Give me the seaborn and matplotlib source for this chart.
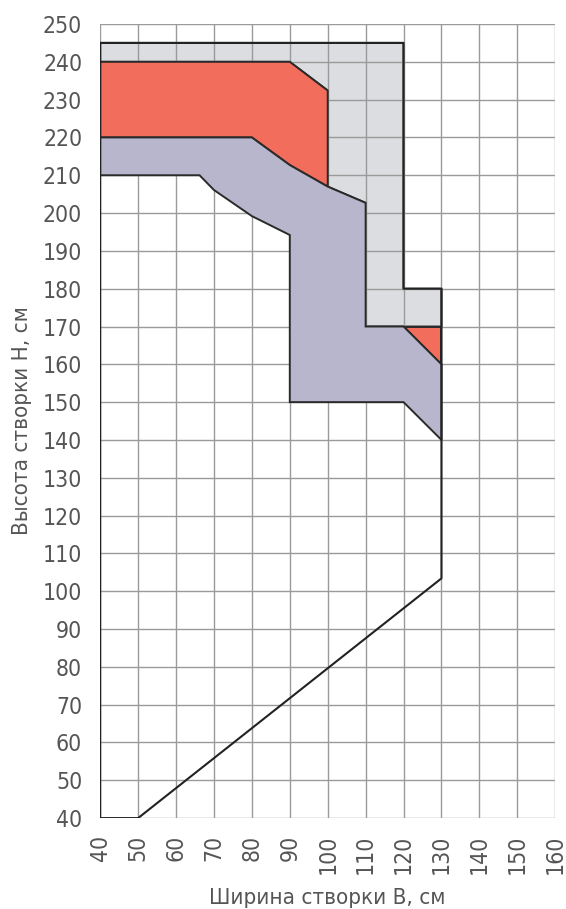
import matplotlib
matplotlib.use("Agg")
import matplotlib.pyplot as plt
import seaborn as sns
import pandas as pd

# Sash width (cm) / height (cm) boundaries of the allowed zones
gray_w = [40, 120, 120, 130, 130, 110, 110, 100, 100, 90, 40]
gray_h = [245, 245, 180, 180, 170, 170, 202.7, 207, 232.4, 240, 240]

red_w = [40, 90, 100, 100, 90, 80, 40]
red_h = [240, 240, 232.4, 207, 212.7, 220, 220]

red_tri_w = [120, 130, 130]
red_tri_h = [170, 170, 160]

purple_w = [40, 80, 90, 100, 110, 110, 120, 130, 130, 120, 90, 90, 80, 70, 66.2, 40]
purple_h = [220, 220, 212.7, 207, 202.7, 170, 170, 160, 140, 150, 150, 194.2, 199.2, 206.1, 210, 210]

outline_w = [40, 120, 120, 130, 130, 50, 40, 40]
outline_h = [245, 245, 180, 180, 103.4, 40, 40, 245]

x_ticks = list(range(40, 161, 10))
y_ticks = list(range(40, 251, 10))

sns.set_theme(style="white")
plt.rcParams["font.family"] = ["DejaVu Sans"]
plt.rcParams["font.stretch"] = "condensed"

fig = plt.figure(figsize=(5.66, 9.09), dpi=100)
ax = fig.add_axes([0.177, 0.1, 0.804, 0.8736])

edge = "#2a2a2a"
ax.fill(gray_w, gray_h, facecolor="#dcdde0", edgecolor=edge, linewidth=1.4, zorder=2)
ax.fill(red_w, red_h, facecolor="#f26d5b", edgecolor=edge, linewidth=1.4, zorder=3)
ax.fill(red_tri_w, red_tri_h, facecolor="#f26d5b", edgecolor=edge, linewidth=1.4, zorder=3)
ax.fill(purple_w, purple_h, facecolor="#b8b6cc", edgecolor=edge, linewidth=1.4, zorder=3)

outline = pd.DataFrame({"w": outline_w, "h": outline_h})
sns.lineplot(data=outline, x="w", y="h", sort=False, estimator=None,
             color="#222222", linewidth=1.5, ax=ax, zorder=5)

ax.set_xlim(40, 160)
ax.set_ylim(40, 250)
ax.set_xticks(x_ticks)
ax.set_yticks(y_ticks)
ax.set_xticklabels([str(v) for v in x_ticks], rotation=90)
ax.grid(True, color="#9a9a9a", linewidth=1.0, zorder=4)
ax.set_axisbelow(False)
for s in ax.spines.values():
    s.set_visible(False)
ax.tick_params(axis="both", length=0, labelsize=16.5, labelcolor="#555555")
ax.tick_params(axis="x", pad=12)
ax.tick_params(axis="y", pad=13)

ax.set_xlabel("Ширина створки В, см", fontsize=16, color="#555555", labelpad=10)
ax.set_ylabel("Высота створки Н, см", fontsize=16, color="#555555", labelpad=8)

fig.savefig("out.png", dpi=100)
